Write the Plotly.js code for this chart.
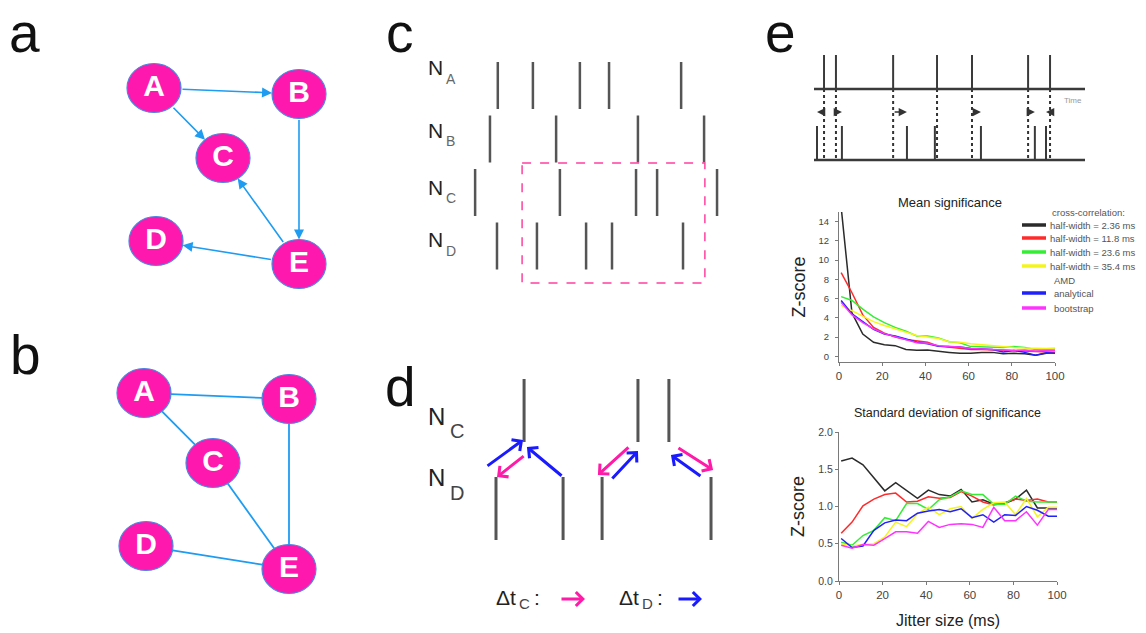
<!DOCTYPE html>
<html>
<head>
<meta charset="utf-8">
<script src="https://cdn.plot.ly/plotly-3.0.1.min.js"></script>
<style>
  html, body { margin: 0; padding: 0; background: #fff; }
  #fig { width: 1146px; height: 633px; }
</style>
</head>
<body>
<div id="fig"></div>
<script>
// ---------- panels a / b : network of five neurons ----------
const nodeNames = ['A', 'B', 'C', 'D', 'E'];
const nodeX = [0, 145, 69, 2, 145];      // node placement (drawing units)
const nodeY = [0, 6, 70, 153, 176];
const directedEdges = [['A', 'B'], ['A', 'C'], ['B', 'E'], ['E', 'C'], ['E', 'D']];
const undirectedEdges = [['A', 'B'], ['A', 'C'], ['B', 'E'], ['C', 'E'], ['D', 'E']];

// ---------- panel c : spike trains (ms) ----------
const rasterRows = ['A', 'B', 'C', 'D'];
const spikesNA = [14, 27, 44.4, 55.2, 81.9];
const spikesNB = [11.1, 35.6, 65.9, 90.4];
const spikesNC = [5.6, 37, 65.2, 73, 95.2];
const spikesND = [13.7, 28.5, 46.7, 56.3, 82.6];
const windowStart = 23, windowEnd = 90.7;

// ---------- panel d : spike pairs and their delays ----------
const exampleC = [20.8, 64.6, 76.5];
const exampleD = [10, 35.8, 50.8, 92.7];
// delays as [fromTime, fromLevel, toTime, toLevel, which]
const delayArrows = [
  [6.15, 97, 20.4, 70, 'D'],
  [21.2, 85, 10.4, 107, 'C'],
  [35.8, 107, 21.9, 77, 'D'],
  [61.5, 76, 49.2, 105, 'C'],
  [54.2, 110, 64.6, 81, 'D'],
  [89.2, 107, 77.3, 85, 'D'],
  [79.6, 77, 93.5, 100, 'C']
];

// ---------- panel e (top) : original and jittered spikes ----------
const originalSpikes = [3.7, 8.1, 29.2, 45.4, 58.3, 79.0, 87.1];
const jitteredSpikes = [1.1, 10.3, 34.3, 44.6, 61.6, 81.5, 85.6];

// ---------- panel e (charts) : significance versus jitter size ----------
const jitter = [1, 6, 11, 16, 21, 26, 31, 36, 41, 46, 51, 56, 61, 66, 71, 76, 81, 86, 91, 96, 100];
const seriesNames = ['half-width = 2.36 ms', 'half-width = 11.8 ms', 'half-width = 23.6 ms',
                     'half-width = 35.4 ms', 'analytical', 'bootstrap'];
const meanHW2_36 = [15.5, 4.5, 2.3, 1.45, 1.2, 1.1, 0.7, 0.62, 0.65, 0.5, 0.4, 0.3, 0.3, 0.4, 0.4, 0.25, 0.3, 0.25, 0.1, 0.3, 0.35];
const meanHW11_8 = [8.7, 6.6, 4.3, 3.0, 2.4, 2.0, 1.75, 1.6, 1.45, 1.05, 0.95, 0.85, 0.7, 0.7, 0.65, 0.6, 0.55, 0.5, 0.45, 0.45, 0.42];
const meanHW23_6 = [6.2, 5.8, 4.9, 4.1, 3.5, 3.0, 2.6, 2.1, 2.1, 1.9, 1.5, 1.4, 1.0, 0.95, 0.95, 0.9, 1.0, 0.9, 0.7, 0.75, 0.75];
const meanHW35_4 = [5.3, 4.75, 4.15, 3.6, 3.2, 2.85, 2.5, 2.15, 2.0, 1.85, 1.5, 1.45, 1.3, 1.2, 1.05, 0.95, 0.9, 0.85, 0.8, 0.8, 0.85];
const meanAnalytical = [5.8, 4.4, 3.6, 2.8, 2.3, 2.1, 1.8, 1.45, 1.3, 1.05, 1.0, 0.95, 0.8, 0.75, 0.7, 0.45, 0.6, 0.4, 0.1, 0.35, 0.3];
const meanBootstrap = [5.6, 4.3, 3.5, 2.85, 2.35, 2.05, 1.75, 1.4, 1.35, 1.1, 1.0, 0.95, 0.8, 0.75, 0.7, 0.65, 0.6, 0.65, 0.55, 0.6, 0.6];
const sdHW2_36 = [1.61, 1.65, 1.56, 1.39, 1.21, 1.32, 1.22, 1.11, 1.22, 1.16, 1.14, 1.23, 1.06, 1.09, 1.03, 1.04, 1.10, 1.22, 0.98, 0.98, 0.98];
const sdHW11_8 = [0.64, 0.79, 1.01, 1.10, 1.16, 1.18, 1.06, 1.07, 1.13, 1.11, 1.12, 1.20, 1.14, 1.06, 1.02, 1.05, 1.10, 1.08, 1.10, 1.06, 1.06];
const sdHW23_6 = [0.52, 0.48, 0.61, 0.68, 0.85, 0.81, 1.04, 1.04, 0.96, 1.09, 1.13, 1.21, 1.16, 1.16, 1.03, 1.03, 1.14, 1.07, 1.06, 1.06, 1.06];
const sdHW35_4 = [0.50, 0.47, 0.49, 0.50, 0.59, 0.79, 0.73, 0.90, 0.99, 0.89, 0.97, 1.00, 0.84, 0.96, 1.05, 1.06, 0.89, 1.11, 0.86, 0.99, 0.99];
const sdAnalytical = [0.57, 0.45, 0.47, 0.68, 0.78, 0.82, 0.81, 0.91, 0.94, 0.96, 0.93, 0.97, 0.85, 0.89, 0.79, 0.89, 0.88, 1.00, 0.95, 0.87, 0.87];
const sdBootstrap = [0.48, 0.44, 0.49, 0.48, 0.57, 0.66, 0.66, 0.64, 0.80, 0.72, 0.76, 0.77, 0.76, 0.72, 0.99, 0.81, 0.81, 0.93, 0.75, 0.96, 0.96];

// ============================================================
const W = 1146, H = 633;
const FONT = 'Liberation Sans, Arial, sans-serif';
const PX = v => v / W;
const PY = v => 1 - v / H;
const domX = (a, b) => [a / W, b / W];
const domY = (top, bottom) => [1 - bottom / H, 1 - top / H];

const seriesColors = ['#2b2b2b', '#ff2a2a', '#33ee33', '#f5f51e', '#2020ff', '#ff33ff'];
const meanSeries = [meanHW2_36, meanHW11_8, meanHW23_6, meanHW35_4, meanAnalytical, meanBootstrap];
const sdSeries = [sdHW2_36, sdHW11_8, sdHW23_6, sdHW35_4, sdAnalytical, sdBootstrap];

const traces = [];
const shapes = [];
const annotations = [];

function hiddenAxis(domain, range, anchor) {
  return { domain, range, anchor, visible: false, fixedrange: true,
           showgrid: false, zeroline: false };
}

// plain text placed on the page
function label(text, x, y, size, color, xanchor) {
  annotations.push({ xref: 'paper', yref: 'paper', x: PX(x), y: PY(y), xanchor: xanchor || 'left',
    yanchor: 'middle', text, showarrow: false, font: { family: FONT, size, color } });
}

// vertical tick marks for spike trains
function spikeTrace(times, lo, hi, xa, ya, color, width) {
  const x = [], y = [];
  times.forEach(t => { x.push(t, t, null); y.push(lo, hi, null); });
  return { type: 'scatter', mode: 'lines', x, y, xaxis: xa, yaxis: ya,
           line: { color, width }, hoverinfo: 'skip', showlegend: false };
}

// ---------- network graphs ----------
const RX = 27, RY = 24.5;
const EDGE = '#1d9cf2';
function boundary(ux, uy) { return 1 / Math.sqrt((ux / RX) ** 2 + (uy / RY) ** 2); }
function edgeEnds(a, b) {
  const i = nodeNames.indexOf(a), j = nodeNames.indexOf(b);
  const x0 = nodeX[i], y0 = nodeY[i], x1 = nodeX[j], y1 = nodeY[j];
  const L = Math.hypot(x1 - x0, y1 - y0), ux = (x1 - x0) / L, uy = (y1 - y0) / L;
  const t = boundary(ux, uy);
  return [x0 + ux * t, y0 + uy * t, x1 - ux * t, y1 - uy * t];
}

['', '2'].forEach(sfx => {
  const xa = 'x' + sfx, ya = 'y' + sfx;
  nodeNames.forEach((n, i) => {
    shapes.push({ type: 'circle', xref: xa, yref: ya, layer: 'below',
      x0: nodeX[i] - RX, x1: nodeX[i] + RX, y0: nodeY[i] - RY, y1: nodeY[i] + RY,
      fillcolor: '#ff18ae', line: { color: '#4b86e0', width: 1.2 } });
  });
  traces.push({ type: 'scatter', mode: 'text', x: nodeX, y: nodeY, text: nodeNames,
    xaxis: xa, yaxis: ya, textposition: 'middle center', hoverinfo: 'skip', showlegend: false,
    textfont: { family: FONT, size: 30, color: '#ffffff', weight: 'bold' } });
});

directedEdges.forEach(([a, b]) => {
  const [x0, y0, x1, y1] = edgeEnds(a, b);
  annotations.push({ xref: 'x', yref: 'y', axref: 'x', ayref: 'y', x: x1, y: y1, ax: x0, ay: y0,
    text: '', showarrow: true, arrowhead: 2, arrowsize: 1.25, arrowwidth: 1.6,
    arrowcolor: EDGE, standoff: 0, startstandoff: 0 });
});

(() => {
  const x = [], y = [];
  undirectedEdges.forEach(([a, b]) => {
    const [x0, y0, x1, y1] = edgeEnds(a, b);
    x.push(x0, x1, null); y.push(y0, y1, null);
  });
  traces.push({ type: 'scatter', mode: 'lines', x, y, xaxis: 'x2', yaxis: 'y2',
    line: { color: EDGE, width: 1.8 }, hoverinfo: 'skip', showlegend: false });
})();

// ---------- panel c ----------
[spikesNA, spikesNB, spikesNC, spikesND].forEach((s, r) => {
  traces.push(spikeTrace(s, r - 0.44, r + 0.44, 'x3', 'y3', '#555555', 2.5));
});
shapes.push({ type: 'rect', xref: 'x3', yref: 'y3', x0: windowStart, x1: windowEnd, y0: 1.45, y1: 3.69,
  line: { color: '#ff3fa0', width: 1.5, dash: 'dash' } });
const rasterLabelY = [68, 130, 187, 240];
rasterRows.forEach((r, i) => {
  label('N', 426, rasterLabelY[i], 21, '#222');
  label(r, 444, rasterLabelY[i] + 11, 14, '#666');
});

// ---------- panel d ----------
traces.push(spikeTrace(exampleC, 9, 72, 'x4', 'y4', '#555555', 3));
traces.push(spikeTrace(exampleD, 107, 170, 'x4', 'y4', '#555555', 3));
const PINK = '#ff1aa8', BLUE = '#1a1aff';
delayArrows.forEach(([t0, l0, t1, l1, w]) => {
  annotations.push({ xref: 'x4', yref: 'y4', axref: 'x4', ayref: 'y4', x: t1, y: l1, ax: t0, ay: l0,
    text: '', showarrow: true, arrowhead: 4, arrowsize: 0.9, arrowwidth: 3,
    arrowcolor: w === 'C' ? PINK : BLUE, standoff: 0, startstandoff: 0 });
});
[['C', 416, 431], ['D', 477, 493]].forEach(([s, yN, yS]) => {
  label('N', 426, yN, 24, '#222');
  label(s, 448, yS, 20, '#444');
});
// delay key: Δt with a subscript, colon and a coloured arrow
[['C', 494, 517, 532, 585, PINK], ['D', 617, 640, 655, 702, BLUE]].forEach(([s, xD, xS, xColon, xTip, col]) => {
  label('Δt', xD, 597, 21, '#222');
  label(s, xS, 603, 15, '#444');
  label(':', xColon, 597, 21, '#222');
  annotations.push({ xref: 'paper', yref: 'paper', x: PX(xTip), y: PY(599), ax: -25, ay: 0,
    text: '', showarrow: true, arrowhead: 4, arrowsize: 0.9, arrowwidth: 3, arrowcolor: col,
    standoff: 0, startstandoff: 0 });
});

// ---------- panel e (top) ----------
traces.push(spikeTrace(originalSpikes, 5, 39, 'x5', 'y5', '#3a3a3a', 2));
traces.push(spikeTrace(jitteredSpikes, 76, 110, 'x5', 'y5', '#3a3a3a', 2));
(() => {
  const x = [], y = [];
  originalSpikes.forEach(t => { x.push(t, t, null); y.push(39, 110, null); });
  traces.push({ type: 'scatter', mode: 'lines', x, y, xaxis: 'x5', yaxis: 'y5',
    line: { color: '#333', width: 2, dash: 'dot' }, hoverinfo: 'skip', showlegend: false });
})();
[39, 110].forEach(lv => shapes.push({ type: 'line', xref: 'x5', yref: 'y5', x0: 0, x1: 100, y0: lv, y1: lv,
  line: { color: '#3a3a3a', width: 2.5 } }));
originalSpikes.forEach((t, i) => {
  const j = jitteredSpikes[i];
  if (Math.abs(j - t) < 1.5) return;
  annotations.push({ xref: 'x5', yref: 'y5', axref: 'x5', ayref: 'y5', x: j, y: 62, ax: t, ay: 62,
    text: '', showarrow: true, arrowhead: 2, arrowsize: 1.1, arrowwidth: 1.5, arrowcolor: '#333',
    standoff: 0, startstandoff: 0 });
});
label('Time', 1073, 100, 8, '#999', 'center');

// ---------- panel e (charts) ----------
meanSeries.forEach((s, k) => traces.push({ type: 'scatter', mode: 'lines', x: jitter, y: s,
  xaxis: 'x6', yaxis: 'y6', name: seriesNames[k], line: { color: seriesColors[k], width: 1.5 },
  showlegend: false, hoverinfo: 'skip' }));
sdSeries.forEach((s, k) => traces.push({ type: 'scatter', mode: 'lines', x: jitter, y: s,
  xaxis: 'x7', yaxis: 'y7', name: seriesNames[k], line: { color: seriesColors[k], width: 1.5 },
  showlegend: false, hoverinfo: 'skip' }));

// legend block beside the mean chart
const legendRows = [
  ['cross-correlation:', 212, null, 1050],
  [seriesNames[0], 225, 0, 1048],
  [seriesNames[1], 238, 1, 1048],
  [seriesNames[2], 252, 2, 1048],
  [seriesNames[3], 266, 3, 1048],
  ['AMD', 280, null, 1052],
  [seriesNames[4], 293, 4, 1052],
  [seriesNames[5], 308, 5, 1052]
];
legendRows.forEach(([txt, yy, k, xl]) => {
  label(txt, xl, yy, 9.5, '#555');
  if (k !== null) shapes.push({ type: 'line', xref: 'paper', yref: 'paper', x0: PX(1022), x1: PX(1046),
    y0: PY(yy), y1: PY(yy), line: { color: seriesColors[k], width: 3.5 } });
});

label('Mean significance', 950, 203, 13, '#222', 'center');
label('Standard deviation of significance', 947, 413, 12.5, '#222', 'center');

// panel letters: top row hangs from the top edge, lower row centred on its glyph
[['a', 8, 0.5, 'top'], ['c', 385, 0.5, 'top'], ['e', 764, 0.5, 'top'],
 ['b', 8.5, 355, 'middle'], ['d', 384, 387, 'middle']].forEach(([l, x, y, va]) =>
  annotations.push({ xref: 'paper', yref: 'paper', x: PX(x), y: PY(y), xanchor: 'left', yanchor: va,
    borderpad: 0, text: l, showarrow: false, font: { family: FONT, size: 55, color: '#111' } }));

function chartAxis(domain, range, anchor, tickvals, size, extra) {
  return Object.assign({ domain, range, anchor, tickvals, fixedrange: true,
    showgrid: false, zeroline: false, showline: true, linecolor: '#7a7a7a', linewidth: 1,
    ticks: 'outside', ticklen: 3, tickcolor: '#7a7a7a', tickwidth: 1,
    tickfont: { family: FONT, size, color: '#444' } }, extra || {});
}
const axisTitle = (text, size, standoff) => ({ text, standoff, font: { family: FONT, size, color: '#222' } });

const layout = {
  width: W, height: H, margin: { l: 0, r: 0, t: 0, b: 0 },
  paper_bgcolor: '#ffffff', plot_bgcolor: 'rgba(0,0,0,0)',
  font: { family: FONT }, showlegend: false,
  xaxis: hiddenAxis(domX(94, 354), [-60, 200], 'y'),
  yaxis: hiddenAxis(domY(38, 308), [220, -50], 'x'),
  xaxis2: hiddenAxis(domX(84, 344), [-60, 200], 'y2'),
  yaxis2: hiddenAxis(domY(343, 613), [220, -50], 'x2'),
  xaxis3: hiddenAxis(domX(460, 730), [0, 100], 'y3'),
  yaxis3: hiddenAxis(domY(56.1, 288.8), [3.8, -0.55], 'x3'),
  xaxis4: hiddenAxis(domX(470, 730), [0, 100], 'y4'),
  yaxis4: hiddenAxis(domY(370, 550), [180, 0], 'x4'),
  xaxis5: hiddenAxis(domX(814, 1085), [0, 100], 'y5'),
  yaxis5: hiddenAxis(domY(50, 165), [115, 0], 'x5'),
  xaxis6: chartAxis(domX(839, 1055), [0, 100], 'y6', [0, 20, 40, 60, 80, 100], 11.5),
  yaxis6: chartAxis(domY(212, 362), [-0.6, 15], 'x6', [0, 2, 4, 6, 8, 10, 12, 14], 9.5,
                    { ticklabelstandoff: 4, title: axisTitle('Z-score', 18, 8) }),
  xaxis7: chartAxis(domX(839, 1057), [0, 100], 'y7', [0, 20, 40, 60, 80, 100], 11.5,
                    { title: axisTitle('Jitter size (ms)', 16, 15) }),
  yaxis7: chartAxis(domY(432, 581), [0, 2], 'x7', [0, 0.5, 1, 1.5, 2], 10.5,
                    { tickformat: '.1f', title: axisTitle('Z-score', 18, 8) }),
  shapes, annotations
};

Plotly.newPlot('fig', traces, layout, { staticPlot: true, displayModeBar: false });
</script>
</body>
</html>
